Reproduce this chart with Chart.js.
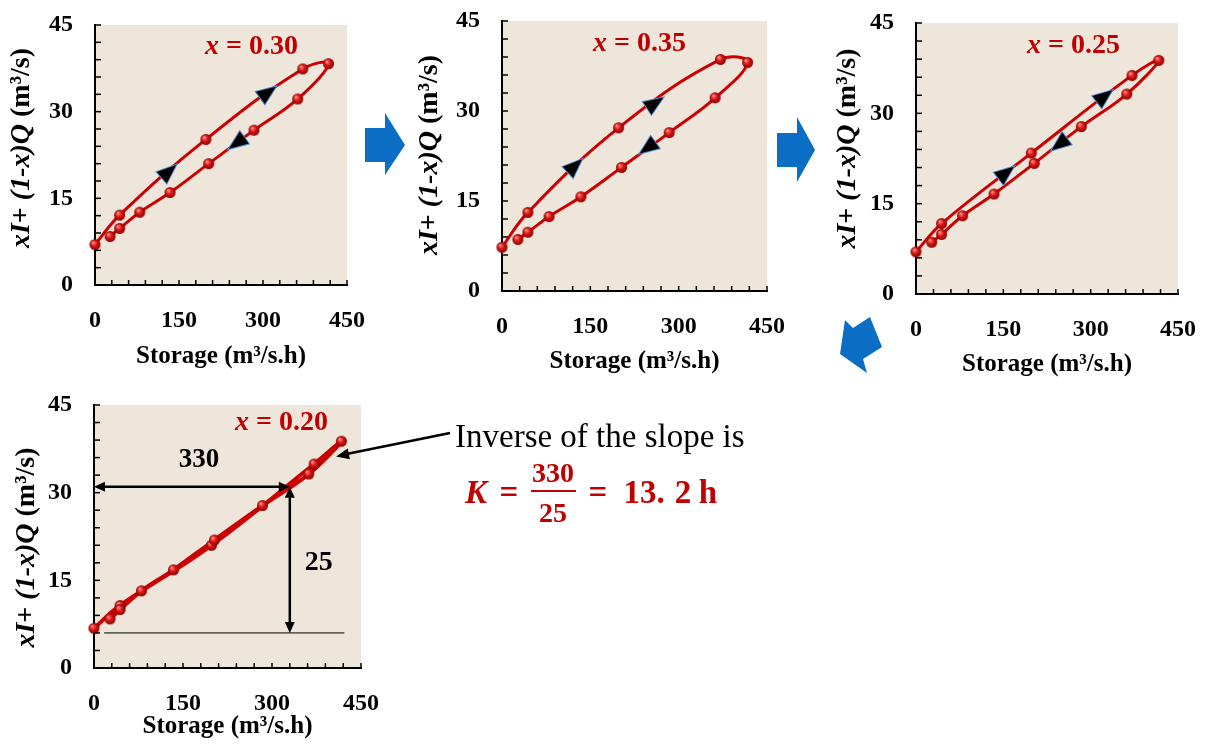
<!DOCTYPE html>
<html>
<head>
<meta charset="utf-8">
<script src="https://cdn.jsdelivr.net/npm/chart.js@4.4.1/dist/chart.umd.min.js"></script>
<style>
  body { margin: 0; background: #fff; width: 1209px; height: 749px; position: relative; overflow: hidden;
         font-family: 'Liberation Serif', 'Times New Roman', serif; }
  canvas { position: absolute; }
  svg { position: absolute; left: 0; top: 0; }
  .t { position: absolute; white-space: nowrap; line-height: 1; transform: translate(-50%, -50%); }
</style>
</head>
<body>
<canvas id="c30"></canvas>
<canvas id="c35"></canvas>
<canvas id="c25"></canvas>
<canvas id="c20"></canvas>

<svg width="1209" height="749">
  <polygon fill="#0a6ec4" points="365,128 385,128 385,113 405,145 385,175 385,162 365,162"/>
  <polygon fill="#0a6ec4" points="777,133 797,133 797,117 815,150 797,182 797,167 777,167"/>
  <polygon fill="#0a6ec4" points="845,320 853,328 870,317 882,347 863,359 867,373 840,354"/>
</svg>

<div class="t" style="left:455px;top:436px;font-size:33px;transform:translate(0,-50%);">Inverse of the slope is</div>
<div id="formula"></div>

<script>
// storage along the loop (rising limb then falling limb)
const storage = [0, 44, 198, 371, 417, 362, 284, 203, 134, 80, 44, 27];
// xI + (1-x)Q for each trial x
const valuesX30 = [7.0, 12.1, 25.2, 37.4, 38.3, 32.2, 26.8, 21.0, 16.0, 12.6, 9.8, 8.4];
const valuesX35 = [7.3, 13.1, 27.2, 38.6, 38.1, 32.2, 26.4, 20.6, 15.7, 12.4, 9.8, 8.6];
const valuesX25 = [7.0, 11.7, 23.4, 36.3, 38.8, 33.2, 27.8, 21.7, 16.6, 13.0, 9.9, 8.6];
const valuesX20 = [6.8, 10.7, 21.0, 34.9, 38.8, 33.2, 27.8, 21.9, 16.8, 13.2, 10.0, 8.4];
// direction markers sitting on the loops
const markersX30 = [[130, 19.5], [307, 33.2], [255, 24.7]];
const markersX35 = [[122, 20.7], [258, 31.2], [249, 24.0]];
const markersX25 = [[153, 20.0], [322, 32.7], [248, 25.0]];
const xTicks = [0, 150, 300, 450];
const yTicks = [0, 15, 30, 45];
// slope read-off on the x = 0.20 plot
const slopeRun = 330;
const slopeRise = 25;
const slopeBase = 6;

const RED = '#c00000';
const FAM = "'Liberation Serif', 'Times New Roman', serif";
const PT = 40;   // room above the plot for the top tick label

function dot(r) {
  const c = document.createElement('canvas');
  const s = 2 * r + 2;
  c.width = c.height = s;
  const g = c.getContext('2d');
  const gr = g.createRadialGradient(s / 2 - r * 0.35, s / 2 - r * 0.4, 0.5, s / 2, s / 2, r);
  gr.addColorStop(0, '#ff9080');
  gr.addColorStop(0.45, '#dc1a1a');
  gr.addColorStop(1, '#8a0000');
  g.fillStyle = gr;
  g.beginPath();
  g.arc(s / 2, s / 2, r, 0, Math.PI * 2);
  g.fill();
  return c;
}
const sphere = dot(5.5);

function rich(ctx, parts, x, y, size, center) {
  let w = 0;
  parts.forEach(p => { ctx.font = p[1] + ' ' + size + 'px ' + FAM; w += ctx.measureText(p[0]).width; });
  let cx = center ? x - w / 2 : x;
  ctx.textBaseline = 'middle';
  ctx.textAlign = 'left';
  parts.forEach(p => {
    ctx.font = p[1] + ' ' + size + 'px ' + FAM;
    ctx.fillText(p[0], cx, y);
    cx += ctx.measureText(p[0]).width;
  });
}

function arrowHead(ctx, x1, y1, x2, y2, len, half) {
  const a = Math.atan2(y2 - y1, x2 - x1);
  ctx.beginPath();
  ctx.moveTo(x2, y2);
  ctx.lineTo(x2 - len * Math.cos(a) + half * Math.sin(a), y2 - len * Math.sin(a) - half * Math.cos(a));
  ctx.lineTo(x2 - len * Math.cos(a) - half * Math.sin(a), y2 - len * Math.sin(a) + half * Math.cos(a));
  ctx.closePath();
  ctx.fill();
}

// pick the branch a marker sits on and point it along the loop
function markerDir(xs, ys, mx, my) {
  const rise = [0, 1, 2, 3, 4];
  const fall = [4, 5, 6, 7, 8, 9, 10, 11];
  let best = null;
  [rise, fall].forEach(br => {
    for (let k = 0; k < br.length - 1; k++) {
      const i = br[k], j = br[k + 1];
      const lo = Math.min(xs[i], xs[j]), hi = Math.max(xs[i], xs[j]);
      if (mx < lo || mx > hi) continue;
      const t = (mx - xs[i]) / (xs[j] - xs[i]);
      const yy = ys[i] + t * (ys[j] - ys[i]);
      const d = Math.abs(yy - my);
      if (!best || d < best.d) best = { d, i, j };
    }
  });
  return best;
}

function makeChart(id, box, values, markers, cfg) {
  const plotW = box.r - box.l, plotH = box.b - box.t;
  const padR = cfg.padR || 45;
  const canvas = document.getElementById(id);
  canvas.width = plotW + 95 + padR;
  canvas.height = plotH + PT + 95;
  canvas.style.left = (box.l - 95) + 'px';
  canvas.style.top = (box.t - PT) + 'px';

  const frame = {
    id: 'frame' + id,
    beforeDraw(chart) {
      const { ctx, chartArea: a } = chart;
      ctx.save();
      ctx.fillStyle = '#efe6db';
      ctx.fillRect(a.left, a.top, a.right - a.left, a.bottom - a.top);
      ctx.restore();
    },
    afterDatasetsDraw(chart) {
      const { ctx } = chart;
      const sx = chart.scales.x, sy = chart.scales.y;
      ctx.save();
      markers.forEach(m => {
        const b = markerDir(storage, values, m[0], m[1]);
        if (!b) return;
        const dx = sx.getPixelForValue(storage[b.j]) - sx.getPixelForValue(storage[b.i]);
        const dy = sy.getPixelForValue(values[b.j]) - sy.getPixelForValue(values[b.i]);
        const n = Math.hypot(dx, dy);
        const ux = dx / n, uy = dy / n;
        const px = sx.getPixelForValue(m[0]), py = sy.getPixelForValue(m[1]);
        ctx.beginPath();
        ctx.moveTo(px + ux * 11, py + uy * 11);
        ctx.lineTo(px - ux * 8 - uy * 7.5, py - uy * 8 + ux * 7.5);
        ctx.lineTo(px - ux * 8 + uy * 7.5, py - uy * 8 - ux * 7.5);
        ctx.closePath();
        ctx.strokeStyle = '#4d8fcf';
        ctx.lineWidth = 2;
        ctx.stroke();
        ctx.fillStyle = '#000';
        ctx.fill();
      });
      ctx.restore();
    },
    afterDraw(chart) {
      const { ctx, chartArea: a } = chart;
      const sx = chart.scales.x, sy = chart.scales.y;
      ctx.save();
      // inward tick marks
      ctx.strokeStyle = '#000';
      ctx.lineWidth = 1.5;
      sx.ticks.forEach(t => {
        const p = sx.getPixelForValue(t.value);
        ctx.beginPath(); ctx.moveTo(p, a.bottom); ctx.lineTo(p, a.bottom - 5); ctx.stroke();
      });
      sy.ticks.forEach(t => {
        const p = sy.getPixelForValue(t.value);
        ctx.beginPath(); ctx.moveTo(a.left, p); ctx.lineTo(a.left + 6, p); ctx.stroke();
      });
      // axis titles
      ctx.fillStyle = '#000';
      rich(ctx, [['Storage (m³/s.h)', 'bold']], (a.left + a.right) / 2, a.bottom + cfg.xGap, 25, true);
      ctx.save();
      ctx.translate(a.left - cfg.yGap, (a.top + a.bottom) / 2 + cfg.yShift);
      ctx.rotate(-Math.PI / 2);
      rich(ctx, [['xI', 'italic bold'], ['+ ', 'bold'], ['(1-x)Q', 'italic bold'], [' (m³/s)', 'bold']], 0, 0, 28, true);
      ctx.restore();
      // panel label
      ctx.fillStyle = RED;
      rich(ctx, [['x', 'italic bold'], [' = ' + cfg.label, 'bold']], a.left + cfg.tx, a.top + cfg.ty, 28, false);
      if (cfg.slope) {
        const x0 = sx.getPixelForValue(0), xr = sx.getPixelForValue(slopeRun);
        const yt = sy.getPixelForValue(slopeBase + slopeRise), yb = sy.getPixelForValue(slopeBase);
        ctx.strokeStyle = '#000';
        ctx.fillStyle = '#000';
        ctx.lineWidth = 1;
        ctx.beginPath();
        ctx.moveTo(sx.getPixelForValue(17), yb); ctx.lineTo(sx.getPixelForValue(422), yb); ctx.stroke();
        ctx.lineWidth = 2.5;
        ctx.beginPath(); ctx.moveTo(x0 + 4, yt); ctx.lineTo(xr - 4, yt); ctx.stroke();
        arrowHead(ctx, xr, yt, x0, yt, 11, 5);
        arrowHead(ctx, x0, yt, xr, yt, 11, 5);
        ctx.beginPath(); ctx.moveTo(xr, yt + 4); ctx.lineTo(xr, yb - 4); ctx.stroke();
        arrowHead(ctx, xr, yb, xr, yt, 11, 5);
        arrowHead(ctx, xr, yt, xr, yb, 11, 5);
        rich(ctx, [[String(slopeRun), 'bold']], sx.getPixelForValue(177), sy.getPixelForValue(35.6), 27, true);
        rich(ctx, [[String(slopeRise), 'bold']], sx.getPixelForValue(379), sy.getPixelForValue(18), 28, true);
        // pointer from the note to the fitted line
        const ex = sx.getPixelForValue(408), ey = sy.getPixelForValue(36.2);
        const sx0 = a.right + 89, sy0 = a.top + 28;
        ctx.lineWidth = 2.5;
        ctx.beginPath(); ctx.moveTo(sx0, sy0); ctx.lineTo(ex + 8, ey - 2); ctx.stroke();
        arrowHead(ctx, sx0, sy0, ex, ey, 13, 5.5);
      }
      ctx.restore();
    }
  };

  const tickFont = { family: FAM, size: 24, weight: 'bold' };
  return new Chart(canvas, {
    type: 'scatter',
    data: {
      datasets: [{
        data: storage.map((s, i) => ({ x: s, y: values[i] })),
        showLine: true,
        borderColor: '#cc0000',
        borderWidth: cfg.lineW || 3,
        tension: 0.4,
        pointStyle: sphere,
        pointRadius: 5,
        clip: false
      }]
    },
    options: {
      responsive: false,
      animation: false,
      devicePixelRatio: 1,
      layout: { padding: { top: PT, right: padR, left: 0, bottom: 0 } },
      plugins: { legend: { display: false }, tooltip: { enabled: false } },
      scales: {
        x: {
          type: 'linear', min: 0, max: 450,
          ticks: { stepSize: 30, autoSkip: false, maxRotation: 0, padding: 21, color: '#000', font: tickFont,
                   callback: v => xTicks.includes(v) ? String(v) : '' },
          grid: { display: false, drawTicks: false },
          border: { color: '#000', width: 2 },
          afterFit: s => { s.height = 95; }
        },
        y: {
          min: 0, max: 45,
          ticks: { stepSize: 3, autoSkip: false, padding: 22, color: '#000', font: tickFont,
                   callback: v => yTicks.includes(v) ? String(v) : '' },
          grid: { display: false, drawTicks: false },
          border: { color: '#000', width: 2 },
          afterFit: s => { s.width = 95; }
        }
      }
    },
    plugins: [frame]
  });
}

makeChart('c30', { l: 95, t: 25, r: 347, b: 285 }, valuesX30, markersX30,
  { label: '0.30', tx: 110, ty: 22, xGap: 72, yGap: 73, yShift: -7 });
makeChart('c35', { l: 502, t: 21, r: 767, b: 291 }, valuesX35, markersX35,
  { label: '0.35', tx: 91, ty: 23, xGap: 71, yGap: 72, yShift: -1 });
makeChart('c25', { l: 916, t: 23, r: 1178, b: 294 }, valuesX25, markersX25,
  { label: '0.25', tx: 111, ty: 23, xGap: 71, yGap: 68, yShift: -10 });
makeChart('c20', { l: 94, t: 405, r: 361, b: 668 }, valuesX20, [],
  { label: '0.20', tx: 141, ty: 18, xGap: 59, yGap: 67, yShift: 11, slope: true, padR: 100, lineW: 4 });

// K = run / rise
const f = document.getElementById('formula');
const kParts = String((slopeRun / slopeRise).toFixed(1)).split('.');
const pieces = [
  ['K', 476, 492, 33, 'italic bold'],
  ['=', 509, 492, 33, 'bold'],
  [String(slopeRun), 553, 473, 28, 'bold'],
  [String(slopeRise), 553, 513, 28, 'bold'],
  ['=', 598, 492, 33, 'bold'],
  [kParts[0] + '.', 644, 492, 33, 'bold'],
  [kParts[1], 683, 492, 33, 'bold'],
  ['h', 708, 492, 33, 'bold']
];
pieces.forEach(p => {
  const d = document.createElement('div');
  d.className = 't';
  d.textContent = p[0];
  d.style.cssText = 'left:' + p[1] + 'px;top:' + p[2] + 'px;color:' + RED + ';font:' + p[4] + ' ' + p[3] + 'px ' + FAM + ';';
  f.appendChild(d);
});
const bar = document.createElement('div');
bar.style.cssText = 'position:absolute;left:531px;top:490px;width:45px;height:2px;background:' + RED + ';';
f.appendChild(bar);
</script>
</body>
</html>
